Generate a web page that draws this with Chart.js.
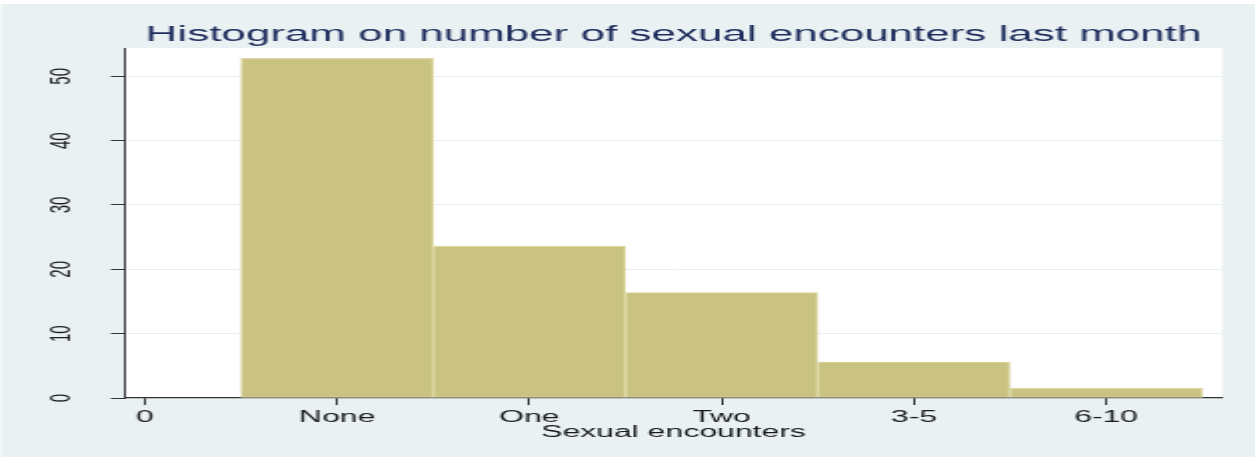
<!DOCTYPE html>
<html>
<head>
<meta charset="utf-8">
<script src="https://cdn.jsdelivr.net/npm/chart.js@4/dist/chart.umd.min.js"></script>
<style>
  html, body { margin: 0; padding: 0; background: #ffffff; }
  #wrap { position: relative; width: 1255px; height: 458px; overflow: hidden; }
  #c { position: absolute; left: 0; top: 0; transform-origin: 0 0; transform: scale(1.9984, 1); }
</style>
</head>
<body>
<div id="wrap"><canvas id="c" width="628" height="458"></canvas></div>
<script>
// ---- data ----
const categories = ['None', 'One', 'Two', '3-5', '6-10'];
const categoryPositions = [1, 2, 3, 4, 5];
const percentValues = [52.8, 23.6, 16.4, 5.6, 1.5];
const xTickValues = [0, 1, 2, 3, 4, 5];
const xTickLabels = ['0', 'None', 'One', 'Two', '3-5', '6-10'];
const yTickValues = [0, 10, 20, 30, 40, 50];

const titleText = 'Histogram on number of sexual encounters last month';
const xTitleText = 'Sexual encounters';

const barData = categoryPositions.map((p, i) => ({ x: p, y: percentValues[i] }));

const bgPlugin = {
  id: 'bgPlugin',
  beforeDraw(chart) {
    const { ctx, chartArea } = chart;
    ctx.save();
    ctx.fillStyle = '#ffffff';
    ctx.fillRect(0, 0, chart.width, chart.height);
    ctx.fillStyle = '#eaf1f3';
    ctx.fillRect(0.5, 4, chart.width, chart.height - 5);
    ctx.fillStyle = '#ffffff';
    ctx.fillRect(chartArea.left, chartArea.top, chartArea.right - chartArea.left, chartArea.bottom - chartArea.top);
    ctx.restore();
  }
};

new Chart(document.getElementById('c'), {
  type: 'bar',
  data: {
    labels: categories,
    datasets: [{
      label: 'Percent',
      data: barData,
      backgroundColor: '#cac280',
      borderColor: '#dcd7a3',
      borderWidth: 1.2,
      borderSkipped: false,
      barPercentage: 1.0,
      categoryPercentage: 1.0
    }]
  },
  options: {
    responsive: false,
    animation: false,
    devicePixelRatio: 1,
    layout: { padding: { left: 0, top: 0, bottom: 0, right: 16.5 } },
    plugins: {
      legend: { display: false },
      tooltip: { enabled: false },
      title: {
        display: true,
        text: titleText,
        fullSize: false,
        color: '#1e2c5c',
        font: { family: 'Liberation Sans', size: 22, weight: 'normal', lineHeight: 1.15 },
        padding: { top: 22, bottom: 0.7 }
      }
    },
    scales: {
      x: {
        type: 'linear',
        min: -0.104,
        max: 5.603,
        offset: false,
        afterBuildTicks(scale) {
          scale.ticks = xTickValues.map(v => ({ value: v }));
        },
        afterFit(scale) { scale.height = 60; },
        ticks: {
          autoSkip: false,
          maxRotation: 0,
          minRotation: 0,
          padding: 3,
          color: '#1a1a1a',
          font: { family: 'Liberation Sans', size: 16 },
          callback: (v) => xTickLabels[xTickValues.indexOf(v)]
        },
        grid: {
          offset: false,
          drawOnChartArea: false,
          drawTicks: true,
          tickLength: 7,
          tickColor: '#333333',
          tickWidth: 1
        },
        border: { display: true, color: '#333333', width: 1.2 },
        title: {
          display: true,
          text: xTitleText,
          color: '#1a1a1a',
          font: { family: 'Liberation Sans', size: 16 },
          padding: { top: 0, bottom: 16 }
        }
      },
      y: {
        min: 0,
        max: 54.4,
        afterBuildTicks(scale) {
          scale.ticks = yTickValues.map(v => ({ value: v }));
        },
        afterFit(scale) { scale.width = 62.5; },
        ticks: {
          minRotation: 90,
          maxRotation: 90,
          crossAlign: 'center',
          padding: 16.5,
          color: '#1a1a1a',
          font: { family: 'Liberation Sans', size: 15 }
        },
        grid: {
          drawOnChartArea: true,
          color: (c) => (c.tick && c.tick.value === 0) ? 'rgba(0,0,0,0)' : '#e6eff2',
          lineWidth: 1,
          drawTicks: true,
          tickLength: 7,
          tickColor: '#333333'
        },
        border: { display: true, color: '#333333', width: 1 }
      }
    }
  },
  plugins: [bgPlugin]
});
</script>
</body>
</html>
